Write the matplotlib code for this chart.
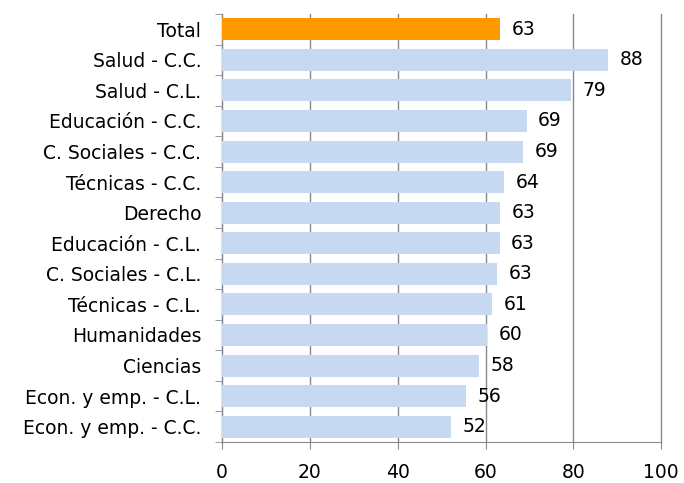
import matplotlib
matplotlib.use('Agg')
import matplotlib.pyplot as plt
import numpy as np

categories = ['Total', 'Salud - C.C.', 'Salud - C.L.', 'Educación - C.C.', 'C. Sociales - C.C.',
              'Técnicas - C.C.', 'Derecho', 'Educación - C.L.', 'C. Sociales - C.L.',
              'Técnicas - C.L.', 'Humanidades', 'Ciencias', 'Econ. y emp. - C.L.',
              'Econ. y emp. - C.C.']
values = [63.3, 87.9, 79.4, 69.4, 68.6, 64.2, 63.3, 63.2, 62.6, 61.5, 60.4, 58.5, 55.6, 52.2]
labels = ['63', '88', '79', '69', '69', '64', '63', '63', '63', '61', '60', '58', '56', '52']
colors = ['#FF9900'] + ['#C6D9F1'] * 13

plt.rcParams['font.family'] = ['DejaVu Sans']
fs = 13.5

fig = plt.figure(figsize=(6.84, 4.83), dpi=100)
ax = fig.add_axes([0.3246, 0.085, 0.642, 0.886])

y = np.arange(len(categories))
ax.barh(y, values, height=0.72, color=colors, zorder=3)
for yi, v, lab in zip(y, values, labels):
    ax.text(v + 2.6, yi, lab, va='center', ha='left', fontsize=fs, zorder=4)

ax.set_ylim(len(categories) - 0.5, -0.5)
ax.set_xlim(0, 100)
ax.set_xticks([0, 20, 40, 60, 80, 100])
ax.set_yticks(y)
ax.set_yticklabels(categories, fontsize=fs)
ax.set_yticks(np.arange(-0.5, len(categories), 1), minor=True)
ax.tick_params(axis='y', which='major', length=0, pad=15)
ax.tick_params(axis='y', which='minor', length=5, color='#888888')
ax.tick_params(axis='x', length=5, color='#888888', labelsize=fs, pad=10)

ax.grid(axis='x', color='#888888', linewidth=1, zorder=0)
for gl in ax.get_xgridlines():
    gl.set_clip_on(False)
for s in ['top', 'right']:
    ax.spines[s].set_visible(False)
for s in ['left', 'bottom']:
    ax.spines[s].set_color('#888888')

fig.savefig('out.png', dpi=100)
